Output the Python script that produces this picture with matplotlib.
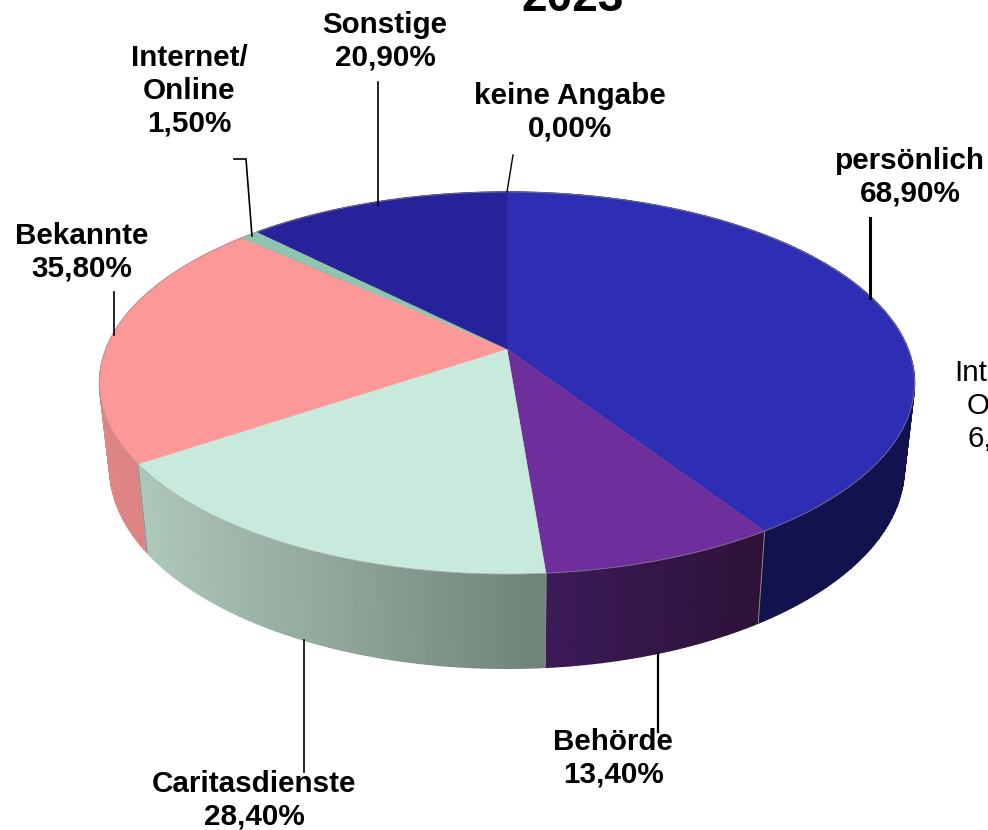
import matplotlib
matplotlib.use('Agg')
import matplotlib.pyplot as plt
import numpy as np
from matplotlib.colors import to_rgb

plt.rcParams['font.family'] = ['Liberation Sans', 'DejaVu Sans']

# Data (clockwise from 12 o'clock)
categories = ['persönlich', 'Behörde', 'Caritasdienste', 'Bekannte', 'Internet/\nOnline', 'Sonstige', 'keine Angabe']
values = [68.9, 13.4, 28.4, 35.8, 1.5, 20.9, 0.0]
value_labels = ['68,90%', '13,40%', '28,40%', '35,80%', '1,50%', '20,90%', '0,00%']
top_colors = ['#2e2eb4', '#6e2f9c', '#c8eadc', '#fd9898', '#8fc5ae', '#27229a', '#27229a']
wall_left = ['#12124f', '#3b1a58', '#aec8ba', '#e08585', '#7fa897', '#1a1a60', '#1a1a60']
wall_right = ['#12124f', '#2e1238', '#6f8277', '#d07c7c', '#7fa897', '#1a1a60', '#1a1a60']

# Pie geometry (pixels)
cx, cy = 507, 349
rx, ry = 401, 185
persp = 0.178
wall_dx = 0.975
wall_dy = 1.05
wall_shift = 83


def top_point(theta):
    u, v = np.sin(theta), -np.cos(theta)
    scale = 1 / (1 - persp * v)
    return cx + rx * u * scale, cy + ry * v * scale


def bottom_point(theta):
    x, y = top_point(theta)
    return cx + wall_dx * (x - cx), cy + wall_shift + wall_dy * (y - cy)


fig = plt.figure(figsize=(9.88, 8.3), dpi=100)
ax = fig.add_axes([0, 0, 1, 1])
ax.set_xlim(0, 988)
ax.set_ylim(830, 0)
ax.axis('off')

edges = np.concatenate([[0], np.cumsum(values)]) / np.sum(values) * 2 * np.pi

# Side wall, back to front, in thin strips for the gradient
strips = []
for i in range(len(values)):
    if values[i] == 0:
        continue
    n = max(int((edges[i + 1] - edges[i]) * 60), 2)
    th = np.linspace(edges[i], edges[i + 1], n + 1)
    xs = np.array([top_point(t)[0] for t in th])
    c1, c2 = np.array(to_rgb(wall_left[i])), np.array(to_rgb(wall_right[i]))
    for j in range(n):
        # gradient runs left to right on screen
        x_frac = ((xs[j] + xs[j + 1]) / 2 - xs.min()) / (xs.max() - xs.min())
        col = c1 + (c2 - c1) * x_frac
        strips.append((-np.cos((th[j] + th[j + 1]) / 2), th[j], th[j + 1], col))

strips.sort(key=lambda s: s[0])
for _, t0, t1, col in strips:
    tt = np.linspace(t0, t1, 4)
    top = np.array([top_point(t) for t in tt])
    bot = np.array([bottom_point(t) for t in tt])
    poly = np.vstack([top, bot[::-1]])
    ax.fill(poly[:, 0], poly[:, 1], color=col, lw=1.0, zorder=2)

# Separators on the front of the wall
for e in edges:
    if -np.cos(e) > 0.2:
        x0, y0 = top_point(e)
        x1, y1 = bottom_point(e)
        ax.plot([x0, x1], [y0, y1], color='#8a8a8a', lw=0.7, zorder=3)

# Top face
for i in range(len(values)):
    if values[i] == 0:
        continue
    th = np.linspace(edges[i], edges[i + 1], 200)
    rim = np.array([top_point(t) for t in th])
    poly = np.vstack([[(cx, cy)], rim])
    ax.fill(poly[:, 0], poly[:, 1], facecolor=top_colors[i], edgecolor=top_colors[i], lw=0.3, zorder=4)
    ax.plot(rim[:, 0], rim[:, 1], color='#9a9a9a', lw=0.7, alpha=0.6, zorder=5)

# Leader lines
leaders = [
    ([870, 870], [218, 298], 2.2),
    ([658, 658], [653, 732], 1.6),
    ([304, 304], [640, 772], 1.2),
    ([114, 114], [292, 335], 1.2),
    ([234, 246, 252], [159, 159, 236], 1.2),
    ([378, 378], [82, 205], 1.2),
    ([513, 507], [155, 192], 1.0),
]
for lx, ly, lw in leaders:
    ax.plot(lx, ly, color='black', lw=lw, zorder=6, solid_joinstyle='miter')

# Labels
label_pos = [(910, 177), (613, 758), (254, 800), (82, 252), (189, 91), (385, 41), (570, 112)]
for name, val, (x, y) in zip(categories, value_labels, label_pos):
    ax.text(x, y, name + '\n' + val, ha='center', va='center', fontsize=21.3, fontweight='bold',
            linespacing=1.22, color='black', zorder=7)

# Label cut off at the right edge
ax.text(1009, 406, 'Internet/\nOnline\n6,10%', ha='center', va='center', fontsize=21.3,
        linespacing=1.22, color='black', zorder=7, clip_on=False)

# Title cut off at the top edge
ax.text(573, 11, '2023', ha='center', va='baseline', fontsize=33, fontweight='bold', color='black')

fig.savefig('out.png', dpi=100)
